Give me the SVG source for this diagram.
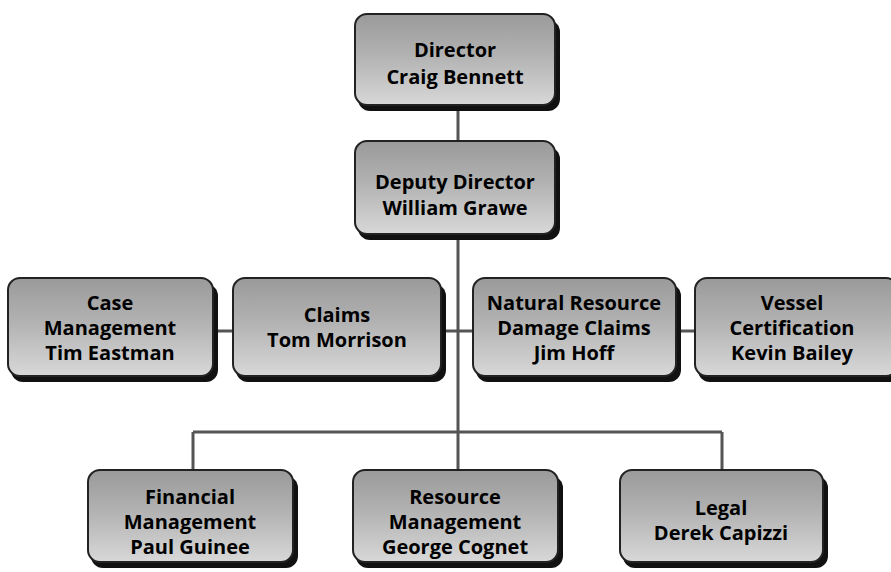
<svg xmlns="http://www.w3.org/2000/svg" width="891" height="572" viewBox="0 0 891 572">
<defs>
<linearGradient id="g" x1="0" y1="0" x2="0" y2="1">
<stop offset="0" stop-color="#9a9a9a"/>
<stop offset="0.45" stop-color="#b2b2b2"/>
<stop offset="1" stop-color="#d8d8d8"/>
</linearGradient>
</defs>
<style>
.sh{fill:#111;}
.bx{fill:url(#g);stroke:#222;stroke-width:2;}
.t{font-family:"Open Sans","Liberation Sans",sans-serif;font-weight:bold;font-size:20px;fill:#000;text-anchor:middle;}
.c{stroke:#555;stroke-width:3;fill:none;}
</style>
<rect width="891" height="572" fill="#fff"/>
<g id="connectors">
<path class="c" d="M458 108 V470"/>
<path class="c" d="M193 432 H722"/>
<path class="c" d="M193 432 V470 M722 432 V470"/>
<path class="c" d="M213 331 H233 M441 331 H473 M676 331 H695"/>
</g>
<g id="director">
<rect class="sh" x="358" y="20" width="202" height="91" rx="12"/>
<rect class="bx" x="355" y="14" width="200" height="91" rx="12"/>
<text class="t" x="455" y="57">Director</text>
<text class="t" x="455" y="84">Craig Bennett</text>
</g>
<g id="deputy">
<rect class="sh" x="358" y="147" width="202" height="93" rx="12"/>
<rect class="bx" x="355" y="141" width="200" height="93" rx="12"/>
<text class="t" x="455" y="189">Deputy Director</text>
<text class="t" x="455" y="215">William Grawe</text>
</g>
<g id="case">
<rect class="sh" x="11" y="284" width="207" height="98" rx="12"/>
<rect class="bx" x="8" y="278" width="205" height="98" rx="12"/>
<text class="t" x="110" y="310">Case</text>
<text class="t" x="110" y="335">Management</text>
<text class="t" x="110" y="360">Tim Eastman</text>
</g>
<g id="claims">
<rect class="sh" x="236" y="284" width="210" height="98" rx="12"/>
<rect class="bx" x="233" y="278" width="208" height="98" rx="12"/>
<text class="t" x="337" y="322">Claims</text>
<text class="t" x="337" y="347">Tom Morrison</text>
</g>
<g id="nrdc">
<rect class="sh" x="476" y="284" width="205" height="98" rx="12"/>
<rect class="bx" x="473" y="278" width="203" height="98" rx="12"/>
<text class="t" x="574" y="310">Natural Resource</text>
<text class="t" x="574" y="335">Damage Claims</text>
<text class="t" x="574" y="360">Jim Hoff</text>
</g>
<g id="vessel">
<rect class="sh" x="698" y="284" width="205" height="98" rx="12"/>
<rect class="bx" x="695" y="278" width="203" height="98" rx="12"/>
<text class="t" x="792" y="310">Vessel</text>
<text class="t" x="792" y="335">Certification</text>
<text class="t" x="792" y="360">Kevin Bailey</text>
</g>
<g id="financial">
<rect class="sh" x="91" y="476" width="207" height="92" rx="12"/>
<rect class="bx" x="88" y="470" width="205" height="92" rx="12"/>
<text class="t" x="190" y="504">Financial</text>
<text class="t" x="190" y="529">Management</text>
<text class="t" x="190" y="554">Paul Guinee</text>
</g>
<g id="resource">
<rect class="sh" x="356" y="476" width="207" height="92" rx="12"/>
<rect class="bx" x="353" y="470" width="205" height="92" rx="12"/>
<text class="t" x="455" y="504">Resource</text>
<text class="t" x="455" y="529">Management</text>
<text class="t" x="455" y="554">George Cognet</text>
</g>
<g id="legal">
<rect class="sh" x="623" y="476" width="205" height="92" rx="12"/>
<rect class="bx" x="620" y="470" width="203" height="92" rx="12"/>
<text class="t" x="721" y="515">Legal</text>
<text class="t" x="721" y="540">Derek Capizzi</text>
</g>
</svg>
